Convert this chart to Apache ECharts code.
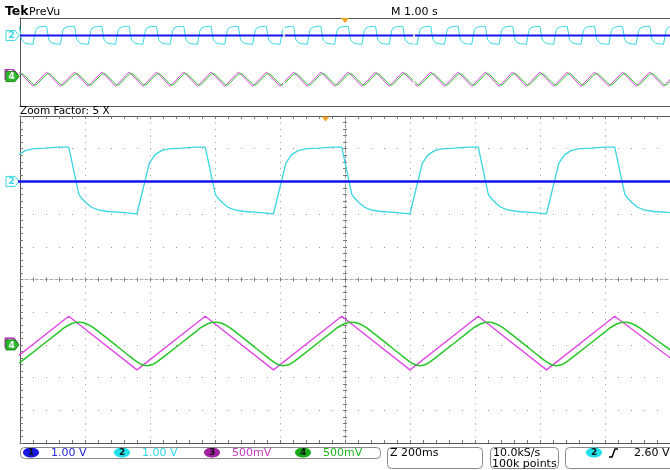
<!DOCTYPE html>
<html>
<head>
<meta charset="utf-8">
<script src="https://cdn.jsdelivr.net/npm/echarts@6/dist/echarts.min.js"></script>
<style>
  html, body { margin: 0; padding: 0; background: #fff; }
  #main { width: 670px; height: 470px; }
</style>
</head>
<body>
<div id="main"></div>
<script>
// channel setup: volts per division and marker position (divisions)
var chScale = [1.0, 1.0, 0.5, 0.5];
var chPos = [3, 3, -2, -2];
var chColors = ['#1414ec', '#38d6e2', '#e044e4', '#26c626'];

// times (s, trigger = 0) where the triangle turns; the square wave switches there too
var peakTimes = [-5.01, -4.59, -4.16, -3.74, -3.32, -2.90, -2.48, -2.06, -1.64, -1.21, -0.79, -0.37,
  0.05, 0.47, 0.89, 1.32, 1.74, 2.16, 2.58, 3.00, 3.42, 3.84, 4.27, 4.69, 5.11];
var troughTimes = [-5.22, -4.80, -4.38, -3.95, -3.53, -3.11, -2.69, -2.27, -1.85, -1.42, -1.00, -0.58,
  -0.16, 0.26, 0.68, 1.11, 1.53, 1.95, 2.37, 2.79, 3.21, 3.63, 4.06, 4.48, 4.90, 5.32];

// ch2 edges: [seconds after edge, volts]
var ch2FallShape = [[0, 1.05], [0.031, -0.40], [0.039, -0.51], [0.054, -0.66], [0.070, -0.79],
  [0.090, -0.87], [0.121, -0.92], [0.162, -0.95]];
var ch2RiseShape = [[0, -0.99], [0.038, 0.56], [0.056, 0.82], [0.077, 0.95], [0.103, 1.00],
  [0.138, 1.02], [0.179, 1.05]];
var ch1Level = 0;
var ch3Peak = 0.437, ch3Trough = -0.382;
// ch4 rounded corners: [seconds from ch3 corner, volts]
var ch4PeakShape = [[-0.024, 0.223], [-0.016, 0.255], [0.008, 0.324], [0.031, 0.346], [0.054, 0.324], [0.078, 0.255]];
var ch4TroughShape = [[-0.024, -0.168], [-0.002, -0.252], [0.014, -0.300], [0.031, -0.317], [0.048, -0.300],
  [0.064, -0.252], [0.083, -0.180]];

var recordSpan = [-5, 5];
var zoomCenter = 0.06;

function toDiv(ch, v) { return v / chScale[ch] + chPos[ch]; }

function edgeList() {
  var e = [];
  peakTimes.forEach(function (t) { e.push({ t: t, peak: true }); });
  troughTimes.forEach(function (t) { e.push({ t: t, peak: false }); });
  e.sort(function (a, b) { return a.t - b.t; });
  return e;
}

function ch2Trace(shift) {
  var e = edgeList(), out = [];
  e.forEach(function (ed, i) {
    var next = i + 1 < e.length ? e[i + 1].t : Infinity;
    (ed.peak ? ch2FallShape : ch2RiseShape).forEach(function (p) {
      if (ed.t + p[0] < next) out.push([ed.t + p[0] - shift, toDiv(1, p[1])]);
    });
  });
  return out;
}

function ch3Trace(shift) {
  return edgeList().map(function (ed) {
    return [ed.t - shift, toDiv(2, ed.peak ? ch3Peak : ch3Trough)];
  });
}

function ch4Trace(shift) {
  var out = [];
  edgeList().forEach(function (ed) {
    (ed.peak ? ch4PeakShape : ch4TroughShape).forEach(function (p) {
      out.push([ed.t + p[0] - shift, toDiv(3, p[1])]);
    });
  });
  return out;
}

function ch1Trace(shift) {
  return [[recordSpan[0] - shift, toDiv(0, ch1Level)], [recordSpan[1] - shift, toDiv(0, ch1Level)]];
}

var font = '"DejaVu Sans", sans-serif';
var frameColor = '#555';
var tickColor = '#777';

function lineSeries(name, data, grid, color, width, extra) {
  var s = {
    name: name, type: 'line', data: data, xAxisIndex: grid, yAxisIndex: grid,
    showSymbol: false, symbol: 'none', silent: true, animation: false,
    lineStyle: { color: color, width: width }
  };
  for (var k in extra) s[k] = extra[k];
  return s;
}

function frameOnly(gridIndex, min, max, position) {
  return { gridIndex: gridIndex, type: 'value', min: min, max: max, position: position,
    axisLine: { show: true, onZero: false, lineStyle: { color: frameColor } },
    axisTick: { show: false }, axisLabel: { show: false }, splitLine: { show: false } };
}

var option = {
  animation: false,
  backgroundColor: '#fff',
  grid: [
    { left: 20, top: 18, width: 650, height: 88 },
    { left: 20, top: 116, width: 650, height: 327 }
  ],
  xAxis: [
    frameOnly(0, recordSpan[0], recordSpan[1], 'bottom'),
    { gridIndex: 1, type: 'value', min: -1, max: 1, interval: 0.2, position: 'bottom',
      axisLine: { onZero: false, lineStyle: { color: frameColor } },
      axisTick: { inside: true, length: 3, lineStyle: { color: tickColor } },
      minorTick: { show: true, splitNumber: 5, length: 3, lineStyle: { color: tickColor } },
      axisLabel: { show: false },
      splitLine: { show: true, lineStyle: { color: '#999', width: 1, type: [1, 5.54] } } },
    { gridIndex: 1, type: 'value', min: -1, max: 1, interval: 0.2, position: 'top',
      axisLine: { onZero: false, lineStyle: { color: frameColor } },
      axisTick: { inside: true, length: 3, lineStyle: { color: tickColor } },
      minorTick: { show: true, splitNumber: 5, length: 3, lineStyle: { color: tickColor } },
      axisLabel: { show: false }, splitLine: { show: false } },
    { gridIndex: 1, type: 'value', min: -1, max: 1, interval: 0.2, position: 'bottom',
      axisLine: { onZero: true, onZeroAxisIndex: 1, lineStyle: { color: '#aaa', type: [3, 2] } },
      axisTick: { inside: true, length: 2, lineStyle: { color: tickColor } },
      minorTick: { show: true, splitNumber: 5, length: 2, lineStyle: { color: tickColor } },
      axisLabel: { show: false }, splitLine: { show: false } },
    { gridIndex: 1, type: 'value', min: -1, max: 1, interval: 0.2, position: 'bottom',
      axisLine: { show: false, onZero: true, onZeroAxisIndex: 1 },
      axisTick: { inside: false, length: 2, lineStyle: { color: tickColor } },
      minorTick: { show: true, splitNumber: 5, length: 2, lineStyle: { color: tickColor } },
      axisLabel: { show: false }, splitLine: { show: false } },
    frameOnly(0, recordSpan[0], recordSpan[1], 'top')
  ],
  yAxis: [
    frameOnly(0, -5, 5, 'left'),
    { gridIndex: 1, type: 'value', min: -5, max: 5, interval: 1, position: 'left',
      axisLine: { show: true, onZero: false, lineStyle: { color: frameColor } },
      axisTick: { show: true, inside: true, length: 3, lineStyle: { color: tickColor } },
      minorTick: { show: true, splitNumber: 5, length: 3, lineStyle: { color: tickColor } },
      axisLabel: { show: false },
      splitLine: { show: true, lineStyle: { color: '#999', width: 1, type: [1, 12] } } },
    { gridIndex: 1, type: 'value', min: -5, max: 5, interval: 1, position: 'left',
      axisLine: { show: true, onZero: true, onZeroAxisIndex: 1, lineStyle: { color: '#999', type: [3, 2] } },
      axisTick: { show: true, inside: true, length: 2, lineStyle: { color: tickColor } },
      minorTick: { show: true, splitNumber: 5, length: 2, lineStyle: { color: tickColor } },
      axisLabel: { show: false }, splitLine: { show: false } },
    { gridIndex: 1, type: 'value', min: -5, max: 5, interval: 1, position: 'left',
      axisLine: { show: false, onZero: true, onZeroAxisIndex: 1 },
      axisTick: { show: true, inside: false, length: 2, lineStyle: { color: tickColor } },
      minorTick: { show: true, splitNumber: 5, length: 2, lineStyle: { color: tickColor } },
      axisLabel: { show: false }, splitLine: { show: false } }
  ],
  series: [
    // overview (whole record)
    lineSeries('CH2', ch2Trace(0), 0, chColors[1], 1),
    lineSeries('CH1', ch1Trace(0), 0, chColors[0], 2),
    lineSeries('CH3', ch3Trace(0), 0, chColors[2], 1),
    lineSeries('CH4', ch4Trace(0), 0, chColors[3], 1, {
      markLine: {
        silent: true, symbol: 'none', label: { show: false }, animation: false,
        lineStyle: { color: '#fff', width: 1.5, type: 'solid' },
        data: [
          [{ coord: [zoomCenter - 1, -4.7] }, { coord: [zoomCenter - 1, 4.7] }],
          [{ coord: [zoomCenter + 1, -4.7] }, { coord: [zoomCenter + 1, 4.7] }]
        ]
      }
    }),
    // zoom pane
    lineSeries('CH2', ch2Trace(zoomCenter), 1, chColors[1], 1.3),
    lineSeries('CH1', ch1Trace(zoomCenter), 1, chColors[0], 2.5),
    lineSeries('CH3', ch3Trace(zoomCenter), 1, chColors[2], 1.3),
    lineSeries('CH4', ch4Trace(zoomCenter), 1, chColors[3], 1.5, { smooth: 0.15 })
  ]
};

var chart = echarts.init(document.getElementById('main'));
chart.setOption(option);

function px(grid, x, y) {
  return chart.convertToPixel({ xAxisIndex: grid, yAxisIndex: grid }, [x, y]);
}

function txt(x, y, s, color, size, weight) {
  return { type: 'text', x: x, y: y, silent: true, z: 10,
    style: { text: s, fill: color, font: (weight || 'normal') + ' ' + size + 'px ' + font, verticalAlign: 'middle' } };
}

function badge(y, label, fill, stroke, textColor, dx, dy) {
  dx = dx || 0; dy = dy || 0;
  return { type: 'group', x: dx, y: y + dy, z: 10, silent: true, children: [
    { type: 'polygon', shape: { points: [[6, -5], [15, -5], [19, 0], [15, 5], [6, 5]] },
      style: { fill: fill, stroke: stroke, lineWidth: 1 } },
    { type: 'text', x: 8.5, y: 0.5, style: { text: label, fill: textColor, font: 'bold 9px ' + font, verticalAlign: 'middle' } }
  ] };
}

function chipLabel(cx, label, fill) {
  return { type: 'group', z: 10, silent: true, children: [
    { type: 'ellipse', shape: { cx: cx, cy: 452.5, rx: 8, ry: 5 }, style: { fill: fill } },
    { type: 'text', x: cx - 3, y: 453, style: { text: label, fill: '#111', font: 'bold 9px ' + font, verticalAlign: 'middle' } }
  ] };
}

function box(x, w, h) {
  return { type: 'rect', z: 9, silent: true, shape: { x: x + 0.5, y: 447.5, width: w, height: h, r: 4 },
    style: { fill: 'none', stroke: '#8a8a8a', lineWidth: 1 } };
}

function trigMark(x, y) {
  return { type: 'polygon', z: 10, silent: true,
    shape: { points: [[x - 4, y], [x + 4, y], [x, y + 5]] }, style: { fill: '#f2a024' } };
}

var ovCh2 = px(0, 0, chPos[1])[1];
var ovCh4 = px(0, 0, chPos[3])[1] - 3;
var mnCh2 = px(1, 0, chPos[1])[1];
var mnCh4 = px(1, 0, chPos[3])[1];
var ovTrig = px(0, 0, 0)[0];
var mnTrig = px(1, -zoomCenter, 0)[0];

chart.setOption({
  graphic: [
    txt(5, 12, 'Tek', '#000', 12.5, 'bold'),
    txt(29, 12, 'PreVu', '#000', 11),
    txt(391, 12, 'M 1.00 s', '#000', 11),
    txt(20, 111, 'Zoom Factor: 5 X', '#000', 10.5),
    trigMark(ovTrig, 18),
    trigMark(mnTrig, 116.5),
    badge(ovCh2, '2', '#fff', chColors[1], chColors[1]),
    badge(ovCh4, '3', '#d055d0', '#a030a0', '#fff', -1, -2),
    badge(ovCh4, '4', '#2db82d', '#178a17', '#fff'),
    badge(mnCh2, '2', '#fff', chColors[1], chColors[1]),
    badge(mnCh4, '3', '#d055d0', '#a030a0', '#fff', -1, -2),
    badge(mnCh4, '4', '#2db82d', '#178a17', '#fff'),
    // status bar
    box(20, 360, 11),
    chipLabel(31, '1', '#1818e0'),
    txt(51, 453, '1.00 V', '#2424d8', 11),
    chipLabel(122, '2', '#20e0ec'),
    txt(142, 453, '1.00 V', '#2cd6e6', 11),
    chipLabel(212, '3', '#a320a3'),
    txt(232, 453, '500mV', '#c23cc2', 11),
    chipLabel(303, '4', '#18a818'),
    txt(323, 453, '500mV', '#1db51d', 11),
    box(387, 95, 21),
    txt(390, 453, 'Z 200ms', '#000', 11),
    box(490, 68, 21),
    txt(493, 453, '10.0kS/s', '#000', 11),
    txt(492, 464, '100k points', '#000', 11),
    box(565, 115, 21),
    { type: 'ellipse', z: 10, silent: true, shape: { cx: 594, cy: 452.5, rx: 8, ry: 5 }, style: { fill: '#20e0ec' } },
    { type: 'text', z: 11, silent: true, x: 591, y: 453, style: { text: '2', fill: '#111', font: 'bold 9px ' + font, verticalAlign: 'middle' } },
    { type: 'polyline', z: 10, silent: true, shape: { points: [[609, 457], [612, 457], [615, 449], [618, 449]] },
      style: { stroke: '#000', lineWidth: 1.5, fill: 'none' } },
    txt(634, 453, '2.60 V', '#000', 11)
  ]
});
</script>
</body>
</html>
